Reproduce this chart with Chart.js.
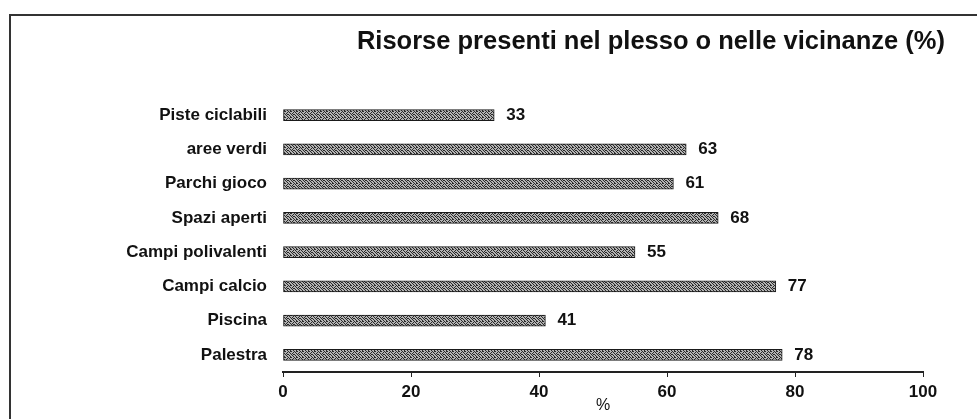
<!DOCTYPE html>
<html>
<head>
<meta charset="utf-8">
<script src="https://cdn.jsdelivr.net/npm/chart.js@4.4.1/dist/chart.umd.min.js"></script>
<style>
    html, body { margin: 0; padding: 0; background: #fff; }
    #wrap { position: relative; width: 977px; height: 419px; }
    #frame {
        position: absolute; left: 9px; top: 14px; right: 0; bottom: 0;
        border-top: 2px solid #333; border-left: 2px solid #333;
    }
    canvas { position: absolute; left: 0; top: 0; }
</style>
</head>
<body>
<div id="wrap">
    <div id="frame"></div>
    <canvas id="risorseChart" width="977" height="419"></canvas>
</div>
<script>
const chartTitle = 'Risorse presenti nel plesso o nelle vicinanze (%)';
const categories = ['Piste ciclabili', 'aree verdi', 'Parchi gioco', 'Spazi aperti',
    'Campi polivalenti', 'Campi calcio', 'Piscina', 'Palestra'];
const percentValues = [33, 63, 61, 68, 55, 77, 41, 78];
const xTicks = [0, 20, 40, 60, 80, 100];

// retino grigio dei bar (stile stampa)
function makePattern() {
    const c = document.createElement('canvas');
    c.width = 6; c.height = 6;
    const g = c.getContext('2d');
    g.fillStyle = '#b4b4b4';
    g.fillRect(0, 0, 6, 6);
    g.fillStyle = '#2a2a2a';
    const dots = [[0,0],[3,0],[1,1],[4,1],[2,2],[5,2],[0,3],[3,3],[1,4],[5,4],[2,5],[4,5],[5,0],[2,3]];
    dots.forEach(d => g.fillRect(d[0], d[1], 1, 1));
    return g.createPattern(c, 'repeat');
}

const titlePlugin = {
    id: 'titoloDestra',
    afterDraw(chart) {
        const ctx = chart.ctx;
        ctx.save();
        ctx.font = 'bold 25.5px "Liberation Sans", Arial, sans-serif';
        ctx.fillStyle = '#111';
        ctx.textAlign = 'right';
        ctx.textBaseline = 'middle';
        ctx.fillText(chartTitle, chart.chartArea.right + 22, 42);
        ctx.restore();
    }
};

const valueLabels = {
    id: 'valoriBarre',
    afterDatasetsDraw(chart) {
        const ctx = chart.ctx;
        const meta = chart.getDatasetMeta(0);
        ctx.save();
        ctx.font = 'bold 17px "Liberation Sans", Arial, sans-serif';
        ctx.fillStyle = '#111';
        ctx.textAlign = 'left';
        ctx.textBaseline = 'middle';
        meta.data.forEach((bar, i) => {
            ctx.fillText(percentValues[i], bar.x + 12, bar.y);
        });
        ctx.restore();
    }
};

const ctx = document.getElementById('risorseChart').getContext('2d');
new Chart(ctx, {
    type: 'bar',
    data: {
        labels: categories,
        datasets: [{
            data: percentValues,
            backgroundColor: makePattern(),
            borderColor: '#1a1a1a',
            borderWidth: 1,
            borderSkipped: false,
            barThickness: 11
        }]
    },
    options: {
        indexAxis: 'y',
        responsive: false,
        animation: false,
        layout: {
            padding: { top: 98, left: 10, right: 54, bottom: 0 }
        },
        plugins: {
            legend: { display: false },
            title: { display: false },
            tooltip: { enabled: false }
        },
        scales: {
            x: {
                min: 0,
                max: 100,
                afterFit: function (scale) { scale.height = 47; },
                afterBuildTicks: function (scale) {
                    scale.ticks = xTicks.map(v => ({ value: v }));
                },
                grid: {
                    drawOnChartArea: false,
                    drawTicks: true,
                    tickLength: 5,
                    color: '#222'
                },
                border: { display: true, color: '#222', width: 2 },
                ticks: {
                    color: '#111',
                    padding: 5,
                    font: { family: '"Liberation Sans", Arial, sans-serif', size: 17, weight: 'bold' }
                },
                title: {
                    display: true,
                    text: '%',
                    color: '#111',
                    padding: { top: 0, bottom: 4 },
                    font: { family: '"Liberation Sans", Arial, sans-serif', size: 16 }
                }
            },
            y: {
                afterFit: function (scale) { scale.width = 273; },
                grid: { display: false },
                border: { display: false },
                ticks: {
                    color: '#111',
                    padding: 8,
                    font: { family: '"Liberation Sans", Arial, sans-serif', size: 17, weight: 'bold' }
                }
            }
        }
    },
    plugins: [titlePlugin, valueLabels]
});
</script>
</body>
</html>
